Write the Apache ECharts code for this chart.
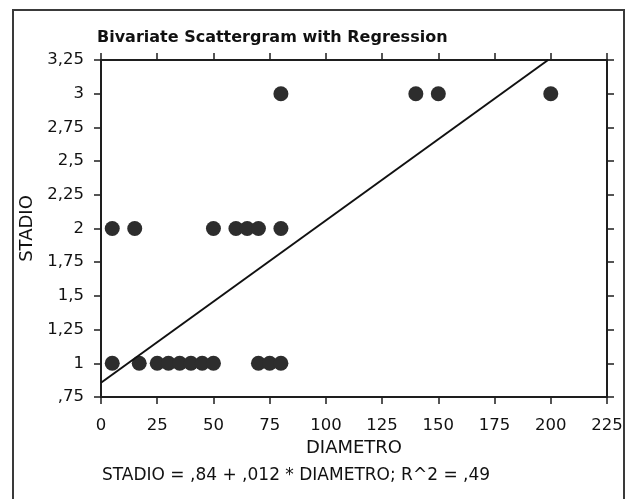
<!DOCTYPE html>
<html>
<head>
<meta charset="utf-8">
<script src="https://cdn.jsdelivr.net/npm/echarts@6/dist/echarts.min.js"></script>
<style>
html,body{margin:0;padding:0;background:#fff;}
#chart{width:629px;height:499px;}
</style>
</head>
<body>
<div id="chart"></div>
<script>
// Data
const diametro = [5, 17, 25, 30, 35, 40, 45, 50, 70, 75, 80,
                  5, 15, 50, 60, 65, 70, 80,
                  80, 140, 150, 200];
const stadio   = [1, 1, 1, 1, 1, 1, 1, 1, 1, 1, 1,
                  2, 2, 2, 2, 2, 2, 2,
                  3, 3, 3, 3];
const regressionX = [0, 198.8];
const regressionY = [0.856, 3.25];
const xTickLabels = ['0','25','50','75','100','125','150','175','200','225'];
const yTickLabels = [',75','1','1,25','1,5','1,75','2','2,25','2,5','2,75','3','3,25'];
const titleText = 'Bivariate Scattergram with Regression';
const equationText = 'STADIO = ,84 + ,012 * DIAMETRO; R^2 = ,49';

const FONT = '"DejaVu Sans", sans-serif';
const AXC = '#1e1e1e';

const chart = echarts.init(document.getElementById('chart'), null, {renderer: 'canvas'});

const axisCommon = {
  axisLine: {show: true, onZero: false, lineStyle: {color: AXC, width: 2}},
  axisTick: {show: true, inside: false, length: 7, lineStyle: {color: AXC, width: 1.5}},
  splitLine: {show: false}
};

chart.setOption({
  backgroundColor: '#ffffff',
  animation: false,
  title: {
    text: titleText,
    left: 97, top: 30, padding: 0,
    textStyle: {fontFamily: FONT, fontSize: 16, fontWeight: 'bold', color: '#111'}
  },
  grid: {left: 101, top: 60, right: 22, bottom: 102, containLabel: false},
  xAxis: [
    Object.assign({}, axisCommon, {
      type: 'value', min: 0, max: 225, interval: 25, position: 'bottom',
      name: 'DIAMETRO', nameLocation: 'middle', nameGap: 42,
      nameTextStyle: {fontFamily: FONT, fontSize: 18, color: '#111'},
      axisLabel: {
        margin: 20, fontFamily: FONT, fontSize: 16.5, color: '#111',
        formatter: v => xTickLabels[Math.round(v / 25)]
      }
    }),
    Object.assign({}, axisCommon, {
      type: 'value', min: 0, max: 225, interval: 25, position: 'top',
      axisLabel: {show: false}
    })
  ],
  yAxis: [
    Object.assign({}, axisCommon, {
      type: 'value', min: 0.75, max: 3.25, interval: 0.25, position: 'left',
      name: 'STADIO', nameLocation: 'middle', nameGap: 58, nameRotate: 90,
      nameTextStyle: {fontFamily: FONT, fontSize: 18, color: '#111'},
      axisLabel: {
        margin: 17, fontFamily: FONT, fontSize: 16.5, color: '#111',
        formatter: v => yTickLabels[Math.round((v - 0.75) / 0.25)]
      }
    }),
    Object.assign({}, axisCommon, {
      type: 'value', min: 0.75, max: 3.25, interval: 0.25, position: 'right',
      axisLabel: {show: false}
    })
  ],
  series: [
    {
      type: 'scatter',
      xAxisIndex: 0, yAxisIndex: 0,
      symbol: 'circle', symbolSize: 15,
      itemStyle: {color: '#2d2d2d', opacity: 1},
      data: diametro.map((d, i) => [d, stadio[i]]),
      z: 2
    },
    {
      type: 'line',
      xAxisIndex: 0, yAxisIndex: 0,
      symbol: 'none',
      lineStyle: {color: '#111', width: 2},
      data: regressionX.map((x, i) => [x, regressionY[i]]),
      z: 3
    }
  ],
  graphic: [
    {
      type: 'rect',
      shape: {x: 13, y: 10, width: 611, height: 520},
      style: {fill: 'none', stroke: '#3a3a3a', lineWidth: 2},
      silent: true
    },
    {
      type: 'text',
      left: 102, top: 467,
      style: {text: equationText, font: '17px "DejaVu Sans", sans-serif', fill: '#111'}
    }
  ]
});
</script>
</body>
</html>
